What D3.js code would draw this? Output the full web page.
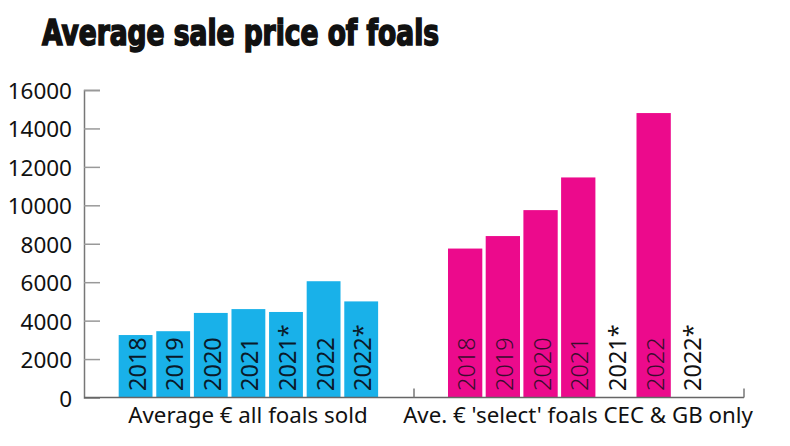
<!DOCTYPE html>
<html>
<head>
<meta charset="utf-8">
<script src="https://cdn.jsdelivr.net/npm/d3@7"></script>
<style>
  html, body { margin: 0; padding: 0; background: #fff; }
  svg { display: block; }
</style>
</head>
<body>
<svg id="chart" width="790" height="446"></svg>
<script>
const title = "Average sale price of foals";
const yTicks = [0, 2000, 4000, 6000, 8000, 10000, 12000, 14000, 16000];

const allLabels = ["2018", "2019", "2020", "2021", "2021*", "2022", "2022*"];
const allValues = [3250, 3450, 4400, 4600, 4450, 6050, 5000];
const allGroupName = "Average € all foals sold";

const selectLabels = ["2018", "2019", "2020", "2021", "2021*", "2022", "2022*"];
const selectValues = [7750, 8400, 9750, 11450, null, 14800, null];
const selectGroupName = "Ave. € 'select' foals CEC & GB only";

const svg = d3.select("#chart");

const y = d3.scaleLinear().domain([0, 16000]).range([397.5, 90]);
const xAll = d3.scaleBand().domain(allLabels).range([116.8, 380]).paddingInner(0.1).paddingOuter(0.05);
const xSel = d3.scaleBand().domain(selectLabels).range([446.3, 710.2]).paddingInner(0.09).paddingOuter(0.045);

// Title
svg.append("text")
  .attr("x", 42).attr("y", 45)
  .attr("font-family", "'Liberation Sans Narrow', 'DejaVu Sans Condensed', sans-serif")
  .attr("font-weight", "bold")
  .attr("font-size", 35)
  .attr("fill", "#111")
  .attr("stroke", "#111").attr("stroke-width", 1.6)
  .attr("textLength", 397).attr("lengthAdjust", "spacingAndGlyphs")
  .text(title);

// Y axis
const yAxis = d3.axisRight(y).tickValues(yTicks).tickSize(16).tickFormat("");
const gy = svg.append("g").attr("transform", "translate(84,0)").call(yAxis);
gy.select(".domain").attr("stroke", "#777").attr("stroke-width", 1.5);
gy.selectAll(".tick line").attr("stroke", "#999").attr("stroke-width", 1.5);

svg.append("g").selectAll("text").data(yTicks).join("text")
  .attr("x", 72).attr("y", d => y(d) + 9)
  .attr("text-anchor", "end")
  .attr("font-family", "'Noto Sans', sans-serif")
  .attr("font-size", 22.5)
  .attr("fill", "#111")
  .text(d => d);

// Blue bars
const gA = svg.append("g");
gA.selectAll("rect").data(allLabels.map((l, i) => ({l, v: allValues[i]}))).join("rect")
  .attr("x", d => xAll(d.l)).attr("width", xAll.bandwidth())
  .attr("y", d => y(d.v)).attr("height", d => y(0) - y(d.v))
  .attr("fill", "#19b1e9");
gA.selectAll("text").data(allLabels).join("text")
  .attr("transform", d => `translate(${xAll(d) + xAll.bandwidth() / 2 + 10},391) rotate(-90)`)
  .attr("font-family", "'Noto Sans', sans-serif")
  .attr("font-size", 23.5)
  .attr("fill", "#0a1a2a")
  .text(d => d);

// Pink bars
const selData = selectLabels.map((l, i) => ({l, v: selectValues[i]}));
const gS = svg.append("g");
gS.selectAll("rect").data(selData.filter(d => d.v != null)).join("rect")
  .attr("x", d => xSel(d.l)).attr("width", xSel.bandwidth())
  .attr("y", d => y(d.v)).attr("height", d => y(0) - y(d.v))
  .attr("fill", "#ec0a8c");
gS.selectAll("text").data(selData).join("text")
  .attr("transform", d => `translate(${xSel(d.l) + xSel.bandwidth() / 2 + 10},391) rotate(-90)`)
  .attr("font-family", "'Noto Sans', sans-serif")
  .attr("font-size", 23.5)
  .attr("font-weight", d => d.v == null ? "normal" : "300")
  .attr("fill", d => d.v == null ? "#111" : "#3a0d2e")
  .text(d => d.l);

// Baseline and group ticks
svg.append("line").attr("x1", 84).attr("x2", 744).attr("y1", y(0)).attr("y2", y(0))
  .attr("stroke", "#666").attr("stroke-width", 1.5);
[414, 744].forEach(x => {
  svg.append("line").attr("x1", x).attr("x2", x).attr("y1", y(0) - 9).attr("y2", y(0))
    .attr("stroke", "#777").attr("stroke-width", 1.5);
});

// Group labels
svg.append("text").attr("x", 248).attr("y", 423).attr("text-anchor", "middle")
  .attr("font-family", "'Noto Sans', sans-serif").attr("font-size", 22.3).attr("fill", "#111")
  .text(allGroupName);
svg.append("text").attr("x", 578).attr("y", 423).attr("text-anchor", "middle")
  .attr("font-family", "'Noto Sans', sans-serif").attr("font-size", 22.3).attr("fill", "#111")
  .text(selectGroupName);
</script>
</body>
</html>
